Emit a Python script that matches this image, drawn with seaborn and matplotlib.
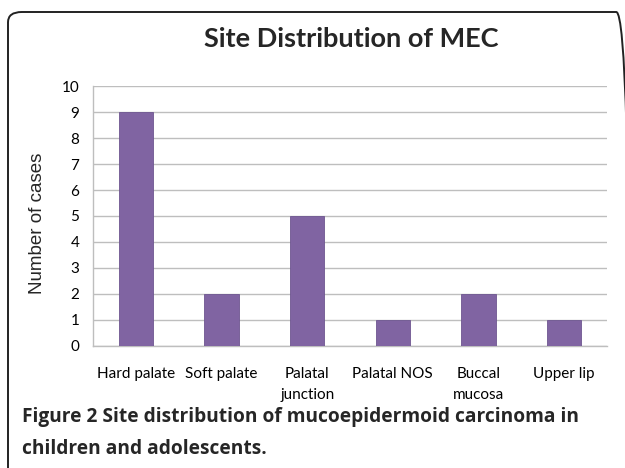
import matplotlib
matplotlib.use("Agg")
import matplotlib.pyplot as plt
import seaborn as sns
import pandas as pd
from matplotlib.patches import FancyBboxPatch

sites = ["Hard palate", "Soft palate", "Palatal\njunction", "Palatal NOS", "Buccal\nmucosa", "Upper lip"]
cases = [9, 2, 5, 1, 2, 1]
y_ticks = list(range(0, 11))

df = pd.DataFrame({"site": sites, "cases": cases})

sns.set_theme(style="white")
plt.rcParams['font.family'] = ['Lato', 'DejaVu Sans']

fig = plt.figure(figsize=(6.25, 4.68), dpi=100)
ax = fig.add_axes([0.149, 0.261, 0.822, 0.555])

sns.barplot(data=df, x="site", y="cases", color="#8064A2", width=0.4,
            saturation=1, edgecolor="#6E5690", linewidth=0.6, ax=ax, zorder=3)

ax.set_ylim(0, 10)
ax.set_yticks(y_ticks)
ax.yaxis.grid(True, color="#BEBEBE", linewidth=1.0, zorder=0)
ax.set_axisbelow(True)
for s in ["top", "right"]:
    ax.spines[s].set_visible(False)
ax.spines["left"].set_color("#BEBEBE")
ax.spines["bottom"].set_color("#BEBEBE")
ax.spines["left"].set_linewidth(1.0)
ax.spines["bottom"].set_linewidth(1.0)
ax.tick_params(axis="both", length=0, labelsize=11, colors="black")
ax.tick_params(axis="y", pad=10)
ax.tick_params(axis="x", pad=15)
for lab in ax.get_xticklabels():
    lab.set_linespacing(1.65)
ax.set_xlabel("")
ax.set_ylabel("Number of cases", fontsize=13.5, family="Liberation Sans", labelpad=6)
ax.yaxis.set_label_coords(-0.092, 0.47)

fig.text(0.562, 0.917, "Site Distribution of MEC", ha="center", va="center",
         fontsize=19.5, fontweight="bold")

fig.text(0.035, 0.108, "Figure 2 Site distribution of mucoepidermoid carcinoma in",
         ha="left", va="center", fontsize=13.8, fontweight="bold", family="Open Sans")
fig.text(0.035, 0.040, "children and adolescents.",
         ha="left", va="center", fontsize=13.8, fontweight="bold", family="Open Sans")

box = FancyBboxPatch((8 / 625, -0.05), 622 / 625, (468 - 12) / 468 + 0.05,
                     boxstyle="round,pad=0,rounding_size=0.022",
                     transform=fig.transFigure, fill=False,
                     edgecolor="#222222", linewidth=1.4, clip_on=False)
fig.patches.append(box)

fig.savefig("out.png", dpi=100)
